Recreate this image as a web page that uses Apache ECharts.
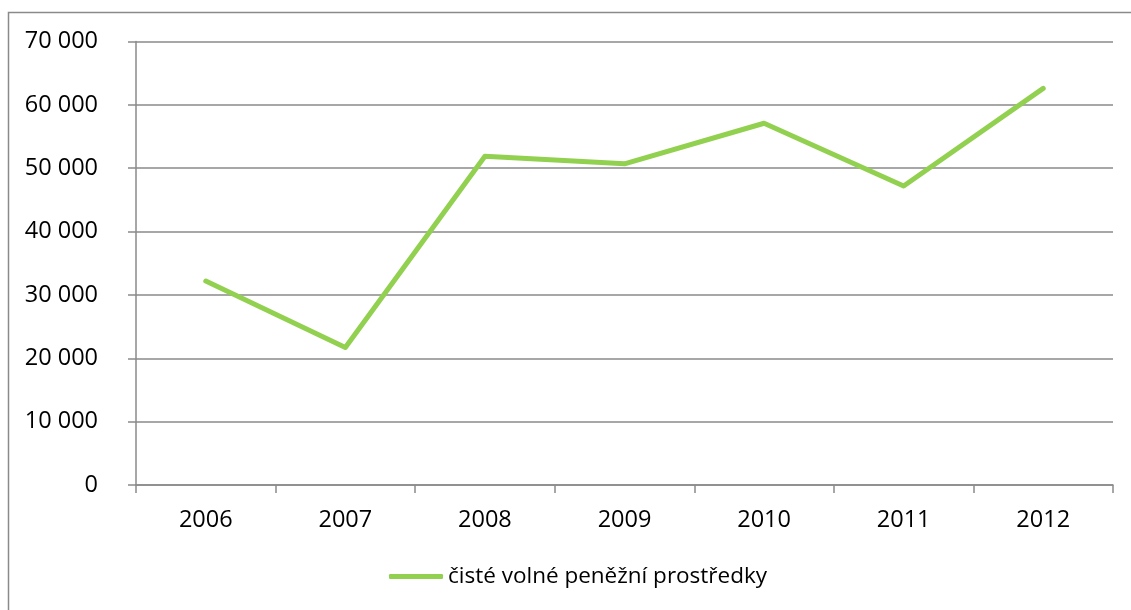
<!DOCTYPE html>
<html>
<head>
<meta charset="utf-8">
<script src="https://cdn.jsdelivr.net/npm/echarts@6/dist/echarts.min.js"></script>
<style>
  html, body { margin: 0; padding: 0; background: #fff; }
  #chart { width: 1131px; height: 610px; }
</style>
</head>
<body>
<div id="chart"></div>
<script>
// Years on the category axis
const years = ['2006', '2007', '2008', '2009', '2010', '2011', '2012'];
// Net free cash, per year
const seriesName = 'čisté volné peněžní prostředky';
const cashValues = [32200, 21700, 51900, 50700, 57100, 47200, 62600];
// Value axis range
const yMin = 0, yMax = 70000, yStep = 10000;

const FONT = '"Open Sans", sans-serif';
const GRAY = '#8a8a8a';

// Thousands grouped with a space, e.g. 70 000
function fmt(v) {
  return String(v).replace(/\B(?=(\d{3})+(?!\d))/g, ' ');
}

const chart = echarts.init(document.getElementById('chart'), null, { renderer: 'canvas' });
chart.setOption({
  backgroundColor: '#fff',
  animation: false,
  textStyle: { fontFamily: FONT },
  graphic: [{
    type: 'rect',
    shape: { x: 8.5, y: 12.5, width: 1300, height: 800 },
    style: { fill: 'none', stroke: GRAY, lineWidth: 1.5 },
    silent: true
  }],
  grid: { left: 136, right: 18, top: 41.5, bottom: 125, containLabel: false },
  legend: {
    bottom: 17,
    left: 384,
    data: [seriesName],
    icon: 'roundRect',
    itemWidth: 54,
    itemHeight: 5,
    itemGap: 10,
    textStyle: { fontFamily: FONT, fontSize: 22.5, color: '#000', padding: [0, 0, 0, 0] }
  },
  xAxis: {
    type: 'category',
    data: years,
    boundaryGap: true,
    axisLine: { lineStyle: { color: GRAY, width: 1.5 } },
    axisTick: { show: true, length: 8, alignWithLabel: false, lineStyle: { color: GRAY, width: 1.5 } },
    axisLabel: { color: '#000', fontFamily: FONT, fontSize: 23.5, margin: 23 },
    splitLine: { show: false }
  },
  yAxis: {
    type: 'value',
    min: yMin,
    max: yMax,
    interval: yStep,
    axisLine: { show: true, lineStyle: { color: GRAY, width: 1.5 } },
    axisTick: { show: true, length: 8, lineStyle: { color: GRAY, width: 1.5 } },
    axisLabel: { color: '#000', fontFamily: FONT, fontSize: 23.5, margin: 38, formatter: fmt },
    splitLine: { show: true, lineStyle: { color: GRAY, width: 1.5 } }
  },
  series: [{
    name: seriesName,
    type: 'line',
    data: cashValues,
    symbol: 'none',
    color: '#92d050',
    lineStyle: { color: '#92d050', width: 5, cap: 'round', join: 'round' }
  }]
});
</script>
</body>
</html>
